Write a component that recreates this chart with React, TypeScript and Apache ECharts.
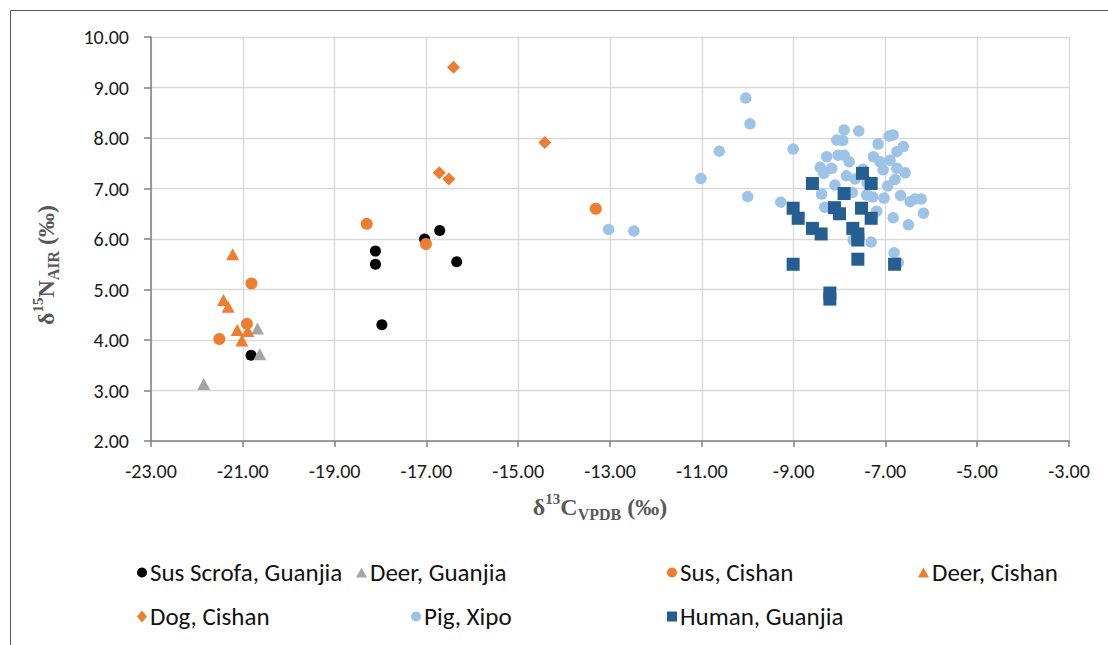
import React, { useEffect, useRef } from 'react';
import * as echarts from 'echarts';

// ---- data (δ13C, δ15N) ----
const susScrofaGuanjia = [
  [-20.82, 3.7], [-18.11, 5.76], [-18.11, 5.5], [-17.97, 4.3], [-17.04, 6.0], [-16.71, 6.17], [-16.34, 5.55],
];
const deerGuanjia = [
  [-21.85, 3.13], [-20.68, 4.23], [-20.63, 3.72],
];
const susCishan = [
  [-21.51, 4.02], [-20.91, 4.32], [-20.81, 5.12], [-18.3, 6.3], [-17.01, 5.9], [-13.31, 6.6],
];
const deerCishan = [
  [-21.22, 5.7], [-21.42, 4.79], [-21.32, 4.66], [-21.12, 4.2], [-20.89, 4.18], [-21.02, 3.99],
];
const dogCishan = [
  [-16.41, 9.4], [-14.42, 7.91], [-16.72, 7.31], [-16.51, 7.19],
];
const pigXipo = [
  [-10.04, 8.79], [-9.95, 8.28], [-10.62, 7.74], [-11.02, 7.2], [-10.0, 6.84], [-9.28, 6.73], [-9.01, 7.78],
  [-13.03, 6.19], [-12.48, 6.16],
  [-7.9, 8.16], [-7.58, 8.14], [-8.06, 7.96], [-7.93, 7.95], [-6.92, 8.04], [-6.83, 8.06], [-7.16, 7.88],
  [-6.61, 7.83], [-6.75, 7.73],
  [-8.28, 7.63], [-8.03, 7.66], [-7.9, 7.66], [-7.79, 7.53], [-7.26, 7.63], [-7.12, 7.53], [-6.9, 7.56],
  [-8.42, 7.42], [-8.17, 7.4], [-8.34, 7.3], [-7.49, 7.38], [-7.05, 7.37], [-6.75, 7.4], [-6.57, 7.31],
  [-7.66, 7.19], [-8.1, 7.07], [-6.95, 7.05], [-6.79, 7.18], [-7.4, 7.12], [-7.85, 7.25],
  [-8.39, 6.89], [-7.72, 6.92], [-7.41, 6.87], [-7.28, 6.83], [-7.03, 6.81], [-6.67, 6.86], [-6.46, 6.74],
  [-6.36, 6.79], [-6.22, 6.79],
  [-6.17, 6.51], [-6.83, 6.42], [-6.5, 6.28], [-8.32, 6.63], [-7.19, 6.55], [-7.31, 5.94], [-6.81, 5.73],
  [-6.72, 5.53], [-7.7, 5.98],
];
const humanGuanjia = [
  [-8.59, 7.1], [-7.5, 7.3], [-7.31, 7.1], [-7.9, 6.9], [-9.01, 6.61], [-8.9, 6.41], [-8.11, 6.62], [-8.0, 6.5],
  [-7.52, 6.61], [-7.31, 6.41], [-8.59, 6.21], [-8.4, 6.1], [-7.71, 6.21], [-7.6, 6.1], [-7.6, 5.98],
  [-9.01, 5.5], [-7.6, 5.6], [-6.8, 5.5], [-8.21, 4.93], [-8.21, 4.81],
];

const X_MIN = -23;
const X_MAX = -3;
const X_STEP = 2;
const Y_MIN = 2;
const Y_MAX = 10;
const Y_STEP = 1;

const seriesNames = [
  'Sus Scrofa, Guanjia', 'Deer, Guanjia', 'Sus, Cishan', 'Deer, Cishan',
  'Dog, Cishan', 'Pig, Xipo', 'Human, Guanjia',
];

const LABEL_FONT = 'Carlito, Lato, sans-serif';
const SERIF = '"Liberation Serif", "DejaVu Serif", serif';

export default function App() {
  const ref = useRef<HTMLDivElement>(null);

  useEffect(() => {
    if (!ref.current) return;
    const chart = echarts.init(ref.current, undefined, { renderer: 'svg' });

    const seriesDefs = [
      { data: susScrofaGuanjia, symbol: 'circle', size: 11, color: '#000000' },
      { data: deerGuanjia, symbol: 'triangle', size: [13, 12], color: '#A5A5A5' },
      { data: susCishan, symbol: 'circle', size: 12, color: '#ED7D31' },
      { data: deerCishan, symbol: 'triangle', size: [13, 12], color: '#ED7D31' },
      { data: dogCishan, symbol: 'diamond', size: [13, 13], color: '#ED7D31' },
      { data: pigXipo, symbol: 'circle', size: 11.5, color: '#9DC3E6' },
      { data: humanGuanjia, symbol: 'rect', size: 13, color: '#255E91' },
    ];

    const legendPos = [
      { left: 137, top: 560, icon: 'circle', w: 10, h: 10 },
      { left: 356, top: 560, icon: 'triangle', w: 11, h: 10 },
      { left: 667, top: 560, icon: 'circle', w: 10, h: 10 },
      { left: 918, top: 560, icon: 'triangle', w: 11, h: 10 },
      { left: 137, top: 604, icon: 'diamond', w: 10, h: 12 },
      { left: 411, top: 604, icon: 'circle', w: 10, h: 10 },
      { left: 667, top: 604, icon: 'rect', w: 10, h: 10 },
    ];

    const titleRich = {
      b: { fontFamily: SERIF, fontWeight: 'bold', fontSize: 24, fill: '#595959', lineHeight: 31 },
      sup: { fontFamily: SERIF, fontWeight: 'bold', fontSize: 15, fill: '#595959', verticalAlign: 'top' },
      sub: { fontFamily: SERIF, fontWeight: 'bold', fontSize: 16, fill: '#595959', verticalAlign: 'bottom' },
    };

    chart.setOption({
      animation: false,
      backgroundColor: '#ffffff',
      grid: { left: 151, right: 39, top: 37, bottom: 204, containLabel: false },
      xAxis: {
        type: 'value',
        min: X_MIN,
        max: X_MAX,
        interval: X_STEP,
        axisLine: { show: true, onZero: false, lineStyle: { color: '#808080', width: 1.5 } },
        axisTick: { show: true, inside: false, length: 6, lineStyle: { color: '#808080', width: 1.5 } },
        axisLabel: {
          margin: 20,
          fontFamily: LABEL_FONT,
          fontSize: 20,
          color: '#1a1a1a',
          formatter: (v: number) => v.toFixed(2),
        },
        splitLine: { show: true, lineStyle: { color: '#D9D9D9', width: 1.3 } },
      },
      yAxis: {
        type: 'value',
        min: Y_MIN,
        max: Y_MAX,
        interval: Y_STEP,
        axisLine: { show: true, onZero: false, lineStyle: { color: '#808080', width: 1.5 } },
        axisTick: { show: true, inside: false, length: 7, lineStyle: { color: '#808080', width: 1.5 } },
        axisLabel: {
          margin: 22,
          fontFamily: LABEL_FONT,
          fontSize: 20,
          color: '#1a1a1a',
          formatter: (v: number) => v.toFixed(2),
        },
        splitLine: { show: true, lineStyle: { color: '#D9D9D9', width: 1.3 } },
      },
      legend: legendPos.map((p, i) => ({
        show: true,
        data: [{ name: seriesNames[i], icon: p.icon }],
        left: p.left,
        top: p.top,
        padding: 0,
        itemGap: 0,
        itemWidth: p.w,
        itemHeight: p.h,
        selectedMode: false,
        textStyle: { fontFamily: LABEL_FONT, fontSize: 25, color: '#111111', padding: [0, 0, 0, -2] },
      })),
      graphic: [
        {
          type: 'rect',
          shape: { x: 10.5, y: 10.5, width: 1300, height: 1000 },
          style: { fill: 'none', stroke: '#595959', lineWidth: 1 },
          silent: true,
        },
        {
          type: 'text',
          x: 46,
          y: 265,
          rotation: Math.PI / 2,
          style: {
            text: '{b|δ}{sup|15}{b|N}{sub|AIR}{b| (‰)}',
            rich: titleRich,
            align: 'center',
            verticalAlign: 'middle',
          },
        },
        {
          type: 'text',
          x: 600,
          y: 507,
          style: {
            text: '{b|δ}{sup|13}{b|C}{sub|VPDB}{b| (‰)}',
            rich: titleRich,
            align: 'center',
            verticalAlign: 'middle',
          },
        },
      ],
      series: seriesDefs.map((s, i) => ({
        type: 'scatter',
        name: seriesNames[i],
        data: s.data,
        symbol: s.symbol,
        symbolSize: s.size,
        itemStyle: { color: s.color, opacity: 1 },
        emphasis: { disabled: true },
        z: 2 + i,
      })),
    });

    return () => chart.dispose();
  }, []);

  return (
    <div
      ref={ref}
      style={{ position: 'fixed', left: 0, top: 0, width: 1108, height: 645, background: '#fff' }}
    />
  );
}
